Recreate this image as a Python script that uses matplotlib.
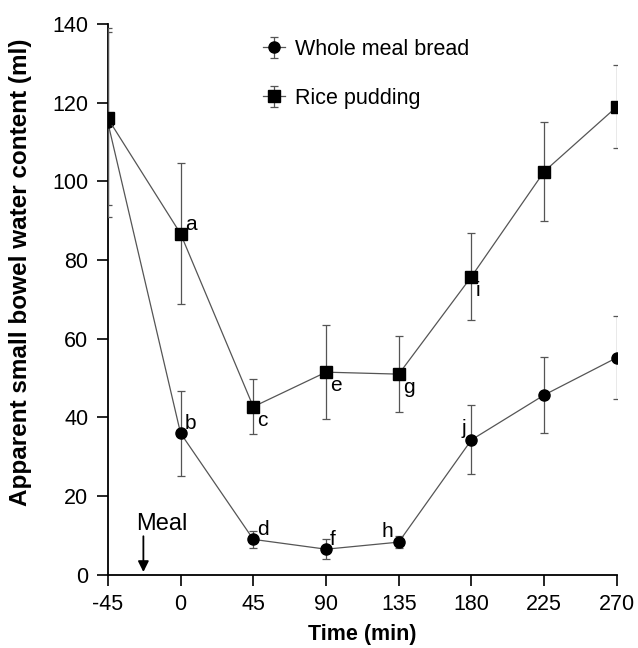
import matplotlib
matplotlib.use('Agg')
import matplotlib.pyplot as plt

plt.rcParams['font.family'] = ['Liberation Sans', 'DejaVu Sans']
plt.rcParams['axes.unicode_minus'] = False

# data
time = [-45, 0, 45, 90, 135, 180, 225, 270]
bread = [115, 36, 9, 6.5, 8.3, 34.3, 45.7, 55.2]
bread_err = [24, 10.8, 2.2, 2.5, 1.6, 8.8, 9.6, 10.5]
rice = [116, 86.7, 42.7, 51.5, 51, 75.8, 102.5, 119]
rice_err = [22, 18, 7, 12, 9.7, 11, 12.7, 10.5]

rice_letters = ['', 'a', 'c', 'e', 'g', 'i', '', '']
bread_letters = ['', 'b', 'd', 'f', 'h', 'j', '', '']
xticks = [-45, 0, 45, 90, 135, 180, 225, 270]

fig = plt.figure(figsize=(6.38, 6.48), dpi=100)
ax = fig.add_axes([0.169, 0.113, 0.798, 0.85])

ax.errorbar(time, bread, yerr=bread_err, fmt='-', color='#555555', lw=0.9,
            ecolor='#555555', elinewidth=0.9, capsize=3, capthick=0.9,
            marker='o', ms=8, mfc='black', mec='black', label='Whole meal bread',
            zorder=3)
ax.errorbar(time, rice, yerr=rice_err, fmt='-', color='#555555', lw=0.9,
            ecolor='#555555', elinewidth=0.9, capsize=3, capthick=0.9,
            marker='s', ms=8, mfc='black', mec='black', label='Rice pudding',
            zorder=3)

# significance letters
fs_letter = 15
for t, v, s in zip(time, rice, rice_letters):
    if s == 'a':
        ax.annotate(s, (t, v), xytext=(3, 3), textcoords='offset points', fontsize=fs_letter)
    elif s:
        ax.annotate(s, (t, v), xytext=(3, -3), textcoords='offset points',
                    fontsize=fs_letter, va='top')
for t, v, s in zip(time, bread, bread_letters):
    if s in ('h', 'j'):
        ax.annotate(s, (t, v), xytext=(-4, 4), textcoords='offset points',
                    fontsize=fs_letter, ha='right')
    elif s:
        ax.annotate(s, (t, v), xytext=(3, 3), textcoords='offset points', fontsize=fs_letter)

# meal arrow
ax.annotate('', xy=(-23, 0), xytext=(-23, 10.5),
            arrowprops=dict(arrowstyle='-|>', color='black', lw=1.3,
                            mutation_scale=16), annotation_clip=False)
ax.text(-11.5, 11.3, 'Meal', fontsize=17, ha='center', va='baseline')

ax.set_xlim(-45, 270)
ax.set_ylim(0, 140)
ax.set_xticks(xticks)
ax.set_yticks(range(0, 141, 20))
ax.tick_params(labelsize=15.5, direction='out', length=8, width=1.2, pad=6)
ax.spines['top'].set_visible(False)
ax.spines['right'].set_visible(False)
ax.spines['left'].set_linewidth(1.3)
ax.spines['bottom'].set_linewidth(1.3)

ax.set_xlabel('Time (min)', fontsize=15.5, fontweight='bold', labelpad=6)
ax.set_ylabel('Apparent small bowel water content (ml)', fontsize=17.5,
              fontweight='bold')
ax.yaxis.set_label_coords(-0.148, 0.55)

leg = ax.legend(loc='upper left', bbox_to_anchor=(0.267, 1.008), frameon=False,
                fontsize=15.5, handlelength=1.0, handletextpad=0.5, labelspacing=1.3)

fig.savefig('out.png', dpi=100)
